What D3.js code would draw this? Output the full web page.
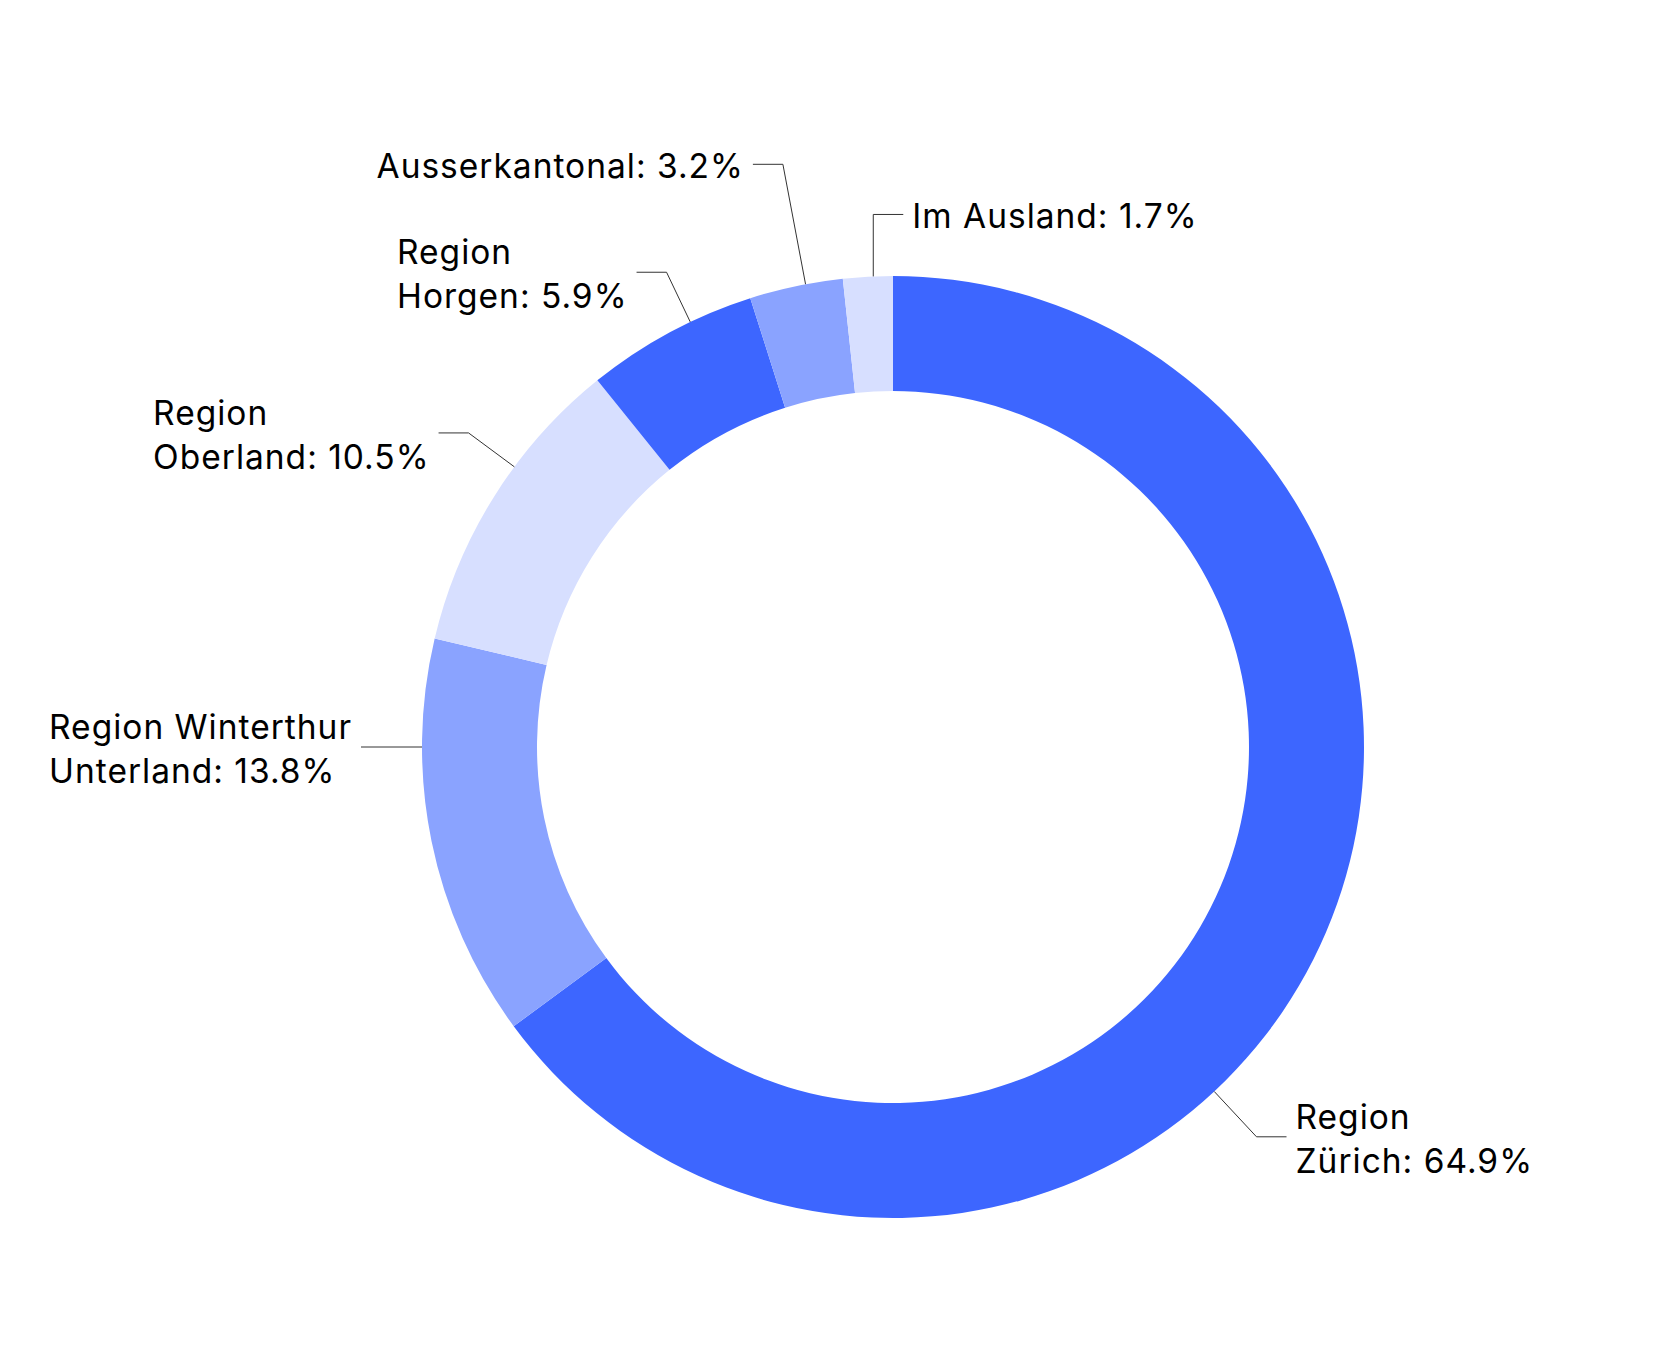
<!DOCTYPE html>
<html lang="de">
<head>
<meta charset="utf-8">
<script src="https://d3js.org/d3.v7.min.js"></script>
<style>
  html, body { margin: 0; padding: 0; background: #fff; }
  svg { display: block; }
  text { font-family: Inter, "Noto Sans", sans-serif; letter-spacing: 1px; }
</style>
</head>
<body>
<script>
// data, clockwise from 12 o'clock
const categories = ["Region Zürich", "Region Winterthur Unterland", "Region Oberland",
                    "Region Horgen", "Ausserkantonal", "Im Ausland"];
const shares = [64.9, 13.8, 10.5, 5.9, 3.2, 1.7];
const sliceColors = ["#3d66ff", "#8aa3ff", "#d7dfff", "#3d66ff", "#8aa3ff", "#d7dfff"];

// where each leader line touches the ring (degrees, clockwise from top), how far out it bends,
// and on which side the text sits
const labelAngle = [137, 270, 306.5, 334.5, 349.3, 357.6];
const elbowRadius = [533, 502, 528, 526, 593, 533];
const labelSide = ["right", "left", "left", "left", "left", "right"];

const width = 1667, height = 1365;
const cx = 893, cy = 747;
const outerR = 471, innerR = 356;
const fontSize = 33.5, lineHeight = 43.6, wrapWidth = 318;

const svg = d3.select("body").append("svg")
  .attr("width", width)
  .attr("height", height);

const pie = d3.pie().sort(null).value(d => d.value);
const arc = d3.arc().innerRadius(innerR).outerRadius(outerR);

const data = categories.map((c, i) => ({name: c, value: shares[i], color: sliceColors[i]}));
const arcs = pie(data);

const g = svg.append("g").attr("transform", `translate(${cx},${cy})`);

g.selectAll("path.slice")
  .data(arcs)
  .join("path")
  .attr("class", "slice")
  .attr("d", arc)
  .attr("fill", d => d.data.color);

// labels
const fmt = d3.format(".1f");
const labels = svg.append("g");

function polar(r, deg) {
  const a = deg * Math.PI / 180;
  return [cx + r * Math.sin(a), cy - r * Math.cos(a)];
}

// measure helper
const probe = svg.append("text").attr("font-size", fontSize).attr("visibility", "hidden");
function textWidth(s) { probe.text(s); return probe.node().getComputedTextLength(); }

function wrap(name, value) {
  const words = name.split(" ");
  words[words.length - 1] += ": " + fmt(value) + "%";
  const lines = [];
  let cur = words[0];
  for (let i = 1; i < words.length; i++) {
    const t = cur + " " + words[i];
    if (textWidth(t) > wrapWidth) { lines.push(cur); cur = words[i]; }
    else cur = t;
  }
  lines.push(cur);
  return lines;
}

arcs.forEach((d, i) => {
  const ang = labelAngle[i];
  const right = labelSide[i] === "right";
  const p0 = polar(outerR, ang);
  const p1 = polar(elbowRadius[i], ang);
  if (Math.abs(p1[1] - p0[1]) < 2) p1[1] = p0[1];
  if (Math.abs(p1[0] - p0[0]) < 4) p1[0] = p0[0];
  const p2 = [p1[0] + (right ? 30 : -30), p1[1]];

  labels.append("path")
    .attr("d", d3.line()([p0, p1, p2]))
    .attr("fill", "none")
    .attr("stroke", "#333")
    .attr("stroke-width", 1);

  const lines = wrap(d.data.name, d.data.value);
  const maxW = d3.max(lines, textWidth);
  const x = right ? p2[0] + 9 : p2[0] - 9 - maxW;

  const t = labels.append("text")
    .attr("font-size", fontSize)
    .attr("fill", "#000");
  lines.forEach((ln, k) => {
    t.append("tspan")
      .attr("x", x)
      .attr("y", p2[1] + 14 + (k - (lines.length - 1) / 2) * lineHeight)
      .text(ln);
  });
});

probe.remove();
</script>
</body>
</html>
